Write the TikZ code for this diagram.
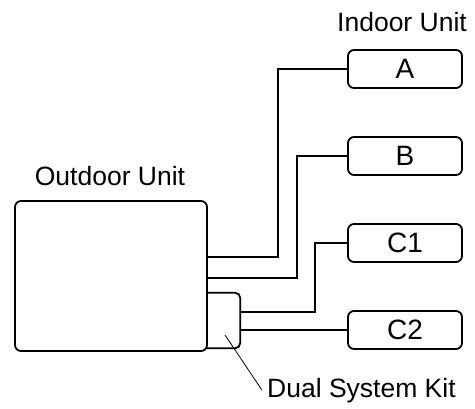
\documentclass[tikz,border=0pt]{standalone}
\usepackage{fontspec}
\setmainfont{Liberation Sans}
\usepackage{tikz}
\usetikzlibrary{positioning, calc}

\begin{document}
\begin{tikzpicture}[
    x=1pt, y=-1pt,
    font=\fontsize{26.5}{30}\selectfont,
    unitbox/.style={rectangle, draw, line width=1.8pt, rounded corners=6pt, inner sep=0pt, minimum width=#1},
    room/.style={unitbox=114pt, minimum height=38pt, font=\fontsize{28}{32}\selectfont},
    pipe/.style={line width=1.8pt},
    leader/.style={line width=0.8pt},
    caption/.style={inner sep=0pt},
]
    \useasboundingbox (0,0) rectangle (475,408);

    % Outdoor side
    \node[unitbox=192pt, minimum height=150pt] (outdoor) at (111,276) {};
    \node[inner sep=0pt, minimum width=33pt, minimum height=55pt] (kit) at (223.5,320.5) {};
    \draw[pipe, rounded corners=5pt] (kit.north west) -- (kit.north east) -- (kit.south east) -- (kit.south west);
    \node[caption, anchor=base] (outdoorlabel) at (110,185) {Outdoor Unit};
    \node[caption, anchor=base west] (kitlabel) at (267,397) {Dual System Kit};

    % Indoor side
    \node[room] (A) at (405,69) {A};
    \node[room] (B) at (405,156) {B};
    \node[room] (C1) at (405,243) {C1};
    \node[room] (C2) at (405,330) {C2};
    \node[caption, anchor=base] (indoorlabel) at (402,31) {Indoor Unit};

    % Pipe ends
    \coordinate (oa) at (207,257);
    \coordinate (ob) at (207,278);
    \coordinate (kc) at (240,312);
    \coordinate (kitpt) at (225,335);

    % Connections
    \draw[pipe] (A.west) -| (278,257) -- (oa);
    \draw[pipe] (B.west) -| (297,278) -- (ob);
    \draw[pipe] (C1.west) -| (315,312) -- (kc);
    \draw[pipe] (C2.west) -- (C2.west -| kit.east);

    % Kit label
    \draw[leader] (kitpt) -- ([xshift=-5pt]kitlabel.west);
\end{tikzpicture}
\end{document}
